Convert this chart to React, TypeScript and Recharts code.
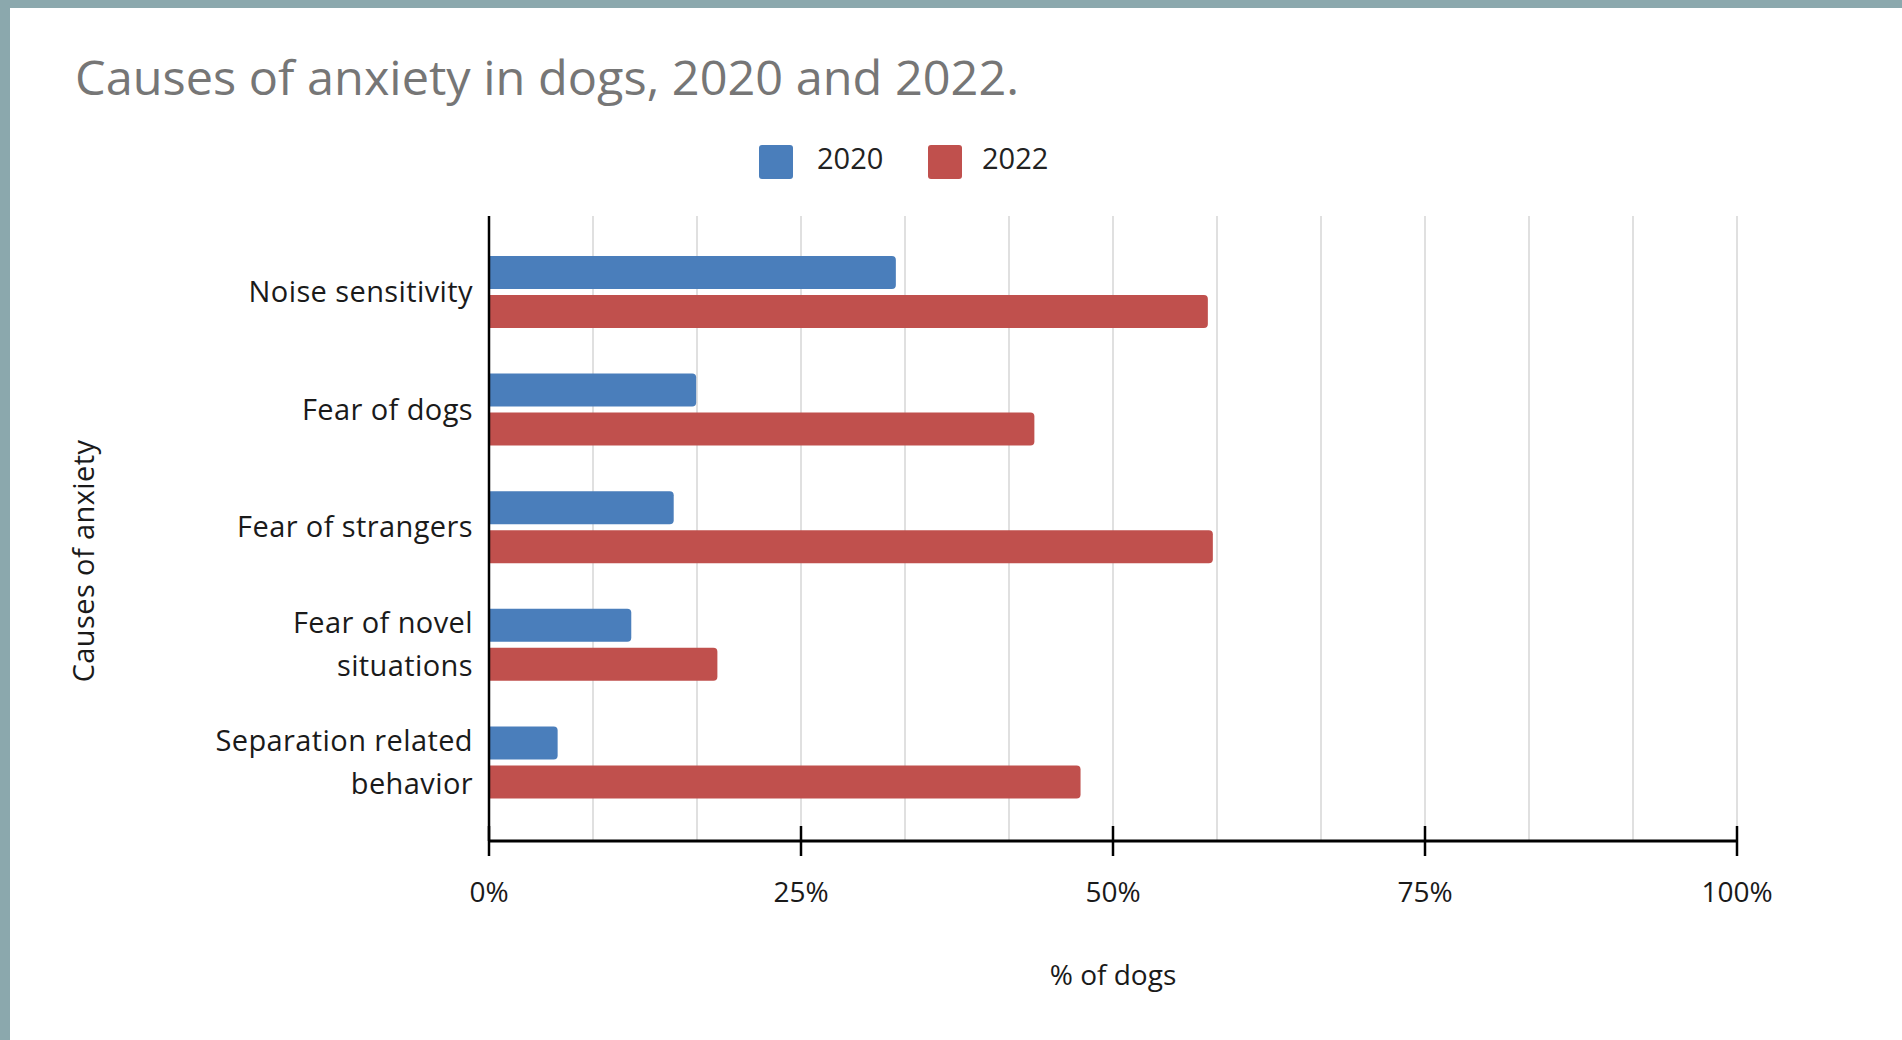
import React from 'react';
import { BarChart, Bar, XAxis, YAxis, CartesianGrid } from 'recharts';

// categories, top to bottom
const causes = [
  'Noise sensitivity',
  'Fear of dogs',
  'Fear of strangers',
  'Fear of novel situations',
  'Separation related behavior',
];
// how each category label wraps on the axis
const causeLines = [
  ['Noise sensitivity'],
  ['Fear of dogs'],
  ['Fear of strangers'],
  ['Fear of novel', 'situations'],
  ['Separation related', 'behavior'],
];
const pct2020 = [32.6, 16.6, 14.8, 11.4, 5.5];
const pct2022 = [57.6, 43.7, 58.0, 18.3, 47.4];

// gridlines every twelfth, labelled ticks every quarter
const gridTicks = [0, 8.333, 16.667, 25, 33.333, 41.667, 50, 58.333, 66.667, 75, 83.333, 91.667, 100];
const majorTicks = [0, 25, 50, 75, 100];

const BLUE = '#4A7EBB';
const RED = '#C0504D';
const FONT = '"Open Sans", "Noto Sans", sans-serif';

const data = causes.map((name, i) => ({
  name,
  lines: causeLines[i],
  y2020: pct2020[i],
  y2022: pct2022[i],
}));

const XTick = (props: any) => {
  const { x, y, payload } = props;
  const v = payload.value;
  const major = majorTicks.some((m) => Math.abs(m - v) < 0.01);
  if (!major) return null;
  return (
    <g>
      <line x1={x} x2={x} y1={y - 15} y2={y + 15} stroke="#000" strokeWidth={2.5} />
      <text x={x} y={y + 51} dy="0.35em" textAnchor="middle" fontSize={28} fill="#1a1a1a" fontFamily={FONT}>
        {Math.round(v)}%
      </text>
    </g>
  );
};

const YTick = (props: any) => {
  const { x, y, payload } = props;
  const row = data.find((d) => d.name === payload.value);
  const lines = row ? row.lines : [String(payload.value)];
  const start = -((lines.length - 1) * 43) / 2;
  return (
    <text x={x - 16} y={y} textAnchor="end" fontSize={29} letterSpacing={0.4} fill="#1a1a1a" fontFamily={FONT}>
      {lines.map((l, i) => (
        <tspan key={i} x={x - 16} y={y + start + i * 43} dy="0.35em">
          {l}
        </tspan>
      ))}
    </text>
  );
};

export default function App() {
  return (
    <div style={{ position: 'absolute', left: 0, top: 0, width: 1902, height: 1040, background: '#8BA8AD', overflow: 'hidden' }}>
      <div style={{ position: 'absolute', left: 10, top: 8, width: 1892, height: 1032, background: '#fff' }} />
      <div style={{ position: 'absolute', left: 0, top: 0 }}>
        <BarChart
          width={1902}
          height={1040}
          data={data}
          layout="vertical"
          barSize={33}
          barGap={6}
          margin={{ top: 216, right: 165, bottom: 119, left: 0 }}
        >
          <CartesianGrid vertical horizontal={false} stroke="#d6d6d6" strokeWidth={1.5} />
          <XAxis
            type="number"
            domain={[0, 100]}
            ticks={gridTicks}
            interval={0}
            height={80}
            tickSize={0}
            tickMargin={0}
            tickLine={false}
            tick={<XTick />}
            axisLine={{ stroke: '#000', strokeWidth: 3 }}
          />
          <YAxis
            type="category"
            dataKey="name"
            width={489}
            padding={{ top: 17, bottom: 20 }}
            tickSize={0}
            tickMargin={0}
            tickLine={false}
            interval={0}
            tick={<YTick />}
            axisLine={{ stroke: '#000', strokeWidth: 2.5 }}
          />
          <Bar dataKey="y2020" name="2020" fill={BLUE} radius={[0, 4, 4, 0]} isAnimationActive={false} />
          <Bar dataKey="y2022" name="2022" fill={RED} radius={[0, 4, 4, 0]} isAnimationActive={false} />
        </BarChart>
      </div>
      <svg width={1902} height={1040} style={{ position: 'absolute', left: 0, top: 0, pointerEvents: 'none' }} fontFamily={FONT}>
        <text x={75} y={95} fontSize={47} textLength={944} lengthAdjust="spacingAndGlyphs" fill="#767676">
          Causes of anxiety in dogs, 2020 and 2022.
        </text>
        <rect x={759} y={145} width={34} height={34} rx={3} fill={BLUE} />
        <text x={817} y={169} fontSize={29} fill="#222">2020</text>
        <rect x={928} y={145} width={34} height={34} rx={3} fill={RED} />
        <text x={982} y={169} fontSize={29} fill="#222">2022</text>
        <text transform="translate(94,561) rotate(-90)" textAnchor="middle" fontSize={29} letterSpacing={0.4} fill="#1a1a1a">
          Causes of anxiety
        </text>
        <text x={1113} y={975} dy="0.35em" textAnchor="middle" fontSize={28} fill="#1a1a1a">
          % of dogs
        </text>
      </svg>
    </div>
  );
}
